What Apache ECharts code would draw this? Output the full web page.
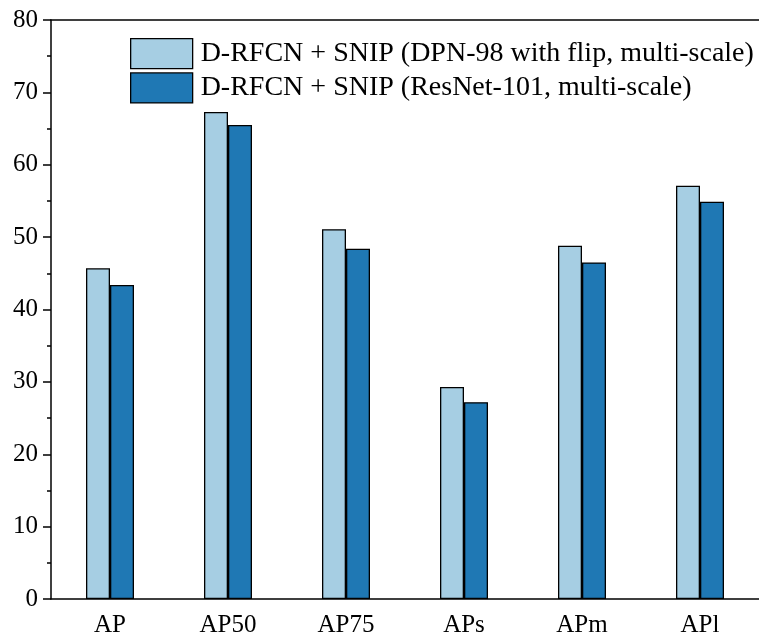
<!DOCTYPE html>
<html><head><meta charset="utf-8">
<script src="https://cdn.jsdelivr.net/npm/echarts@6/dist/echarts.min.js"></script>
<style>html,body{margin:0;padding:0;background:#fff}#c{width:759px;height:639px}</style>
</head><body><div id="c"></div>
<script>
const categories = ['AP', 'AP50', 'AP75', 'APs', 'APm', 'APl'];
const seriesNames = ['D-RFCN + SNIP (DPN-98 with flip, multi-scale)', 'D-RFCN + SNIP (ResNet-101, multi-scale)'];
const dpnValues = [45.7, 67.3, 51.1, 29.3, 48.8, 57.1];
const resnetValues = [43.4, 65.5, 48.4, 27.2, 46.5, 54.9];
const yTicks = [0, 10, 20, 30, 40, 50, 60, 70, 80];

const font = 'Liberation Serif';
const chart = echarts.init(document.getElementById('c'), null, {renderer: 'canvas'});
chart.setOption({
  animation: false,
  backgroundColor: '#fff',
  textStyle: {fontFamily: font},
  grid: {left: 51, top: 20, width: 720, height: 579, containLabel: false},
  legend: {
    orient: 'vertical', left: 130, top: 38, padding: 0,
    icon: 'rect',
    itemWidth: 62, itemHeight: 30, itemGap: 3,
    itemStyle: {borderColor: '#000', borderWidth: 1.3},
    textStyle: {fontFamily: font, fontSize: 28, color: '#000', lineHeight: 30, padding: [0, 0, 0, 3]},
    data: seriesNames
  },
  xAxis: [
    {type: 'category', data: categories, position: 'bottom',
     axisLine: {lineStyle: {color: '#000', width: 1.5}},
     axisTick: {alignWithLabel: true, length: 8, lineStyle: {color: '#000', width: 1.5}},
     axisLabel: {fontFamily: font, fontSize: 25, color: '#000', margin: 14}},
    {type: 'category', data: categories, position: 'bottom', offset: 0,
     axisLine: {show: false},
     axisTick: {alignWithLabel: false, length: 4, lineStyle: {color: '#000', width: 1.5}},
     axisLabel: {show: false}},
    {type: 'category', data: categories, position: 'top',
     axisLine: {lineStyle: {color: '#000', width: 1.5}},
     axisTick: {show: false}, axisLabel: {show: false}}
  ],
  yAxis: {
    type: 'value', min: 0, max: 80, interval: 10,
    axisLine: {show: true, lineStyle: {color: '#000', width: 1.5}},
    axisTick: {show: true, length: 8, lineStyle: {color: '#000', width: 1.5}},
    minorTick: {show: true, splitNumber: 2, length: 4, lineStyle: {color: '#000', width: 1.5}},
    splitLine: {show: false},
    axisLabel: {fontFamily: font, fontSize: 25, color: '#000', margin: 13,
      formatter: v => yTicks.includes(v) ? String(v) : ''}
  },
  series: [
    {name: seriesNames[0], type: 'bar', data: dpnValues, barWidth: 24, barGap: 0,
     itemStyle: {color: '#a6cee3', borderColor: '#000', borderWidth: 1.3}},
    {name: seriesNames[1], type: 'bar', data: resnetValues, barWidth: 24, barGap: 0,
     itemStyle: {color: '#1f78b4', borderColor: '#000', borderWidth: 1.3}}
  ]
});
</script></body></html>
